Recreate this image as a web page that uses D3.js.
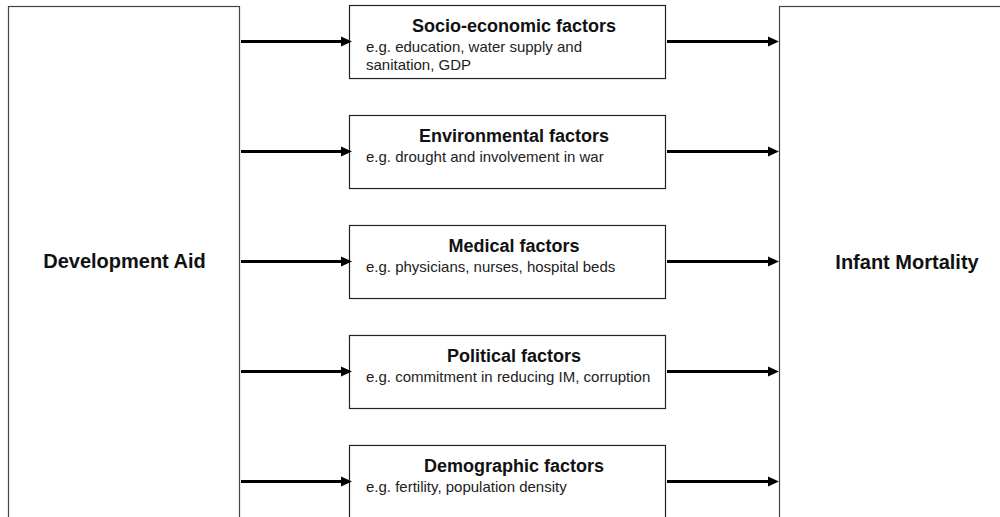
<!DOCTYPE html>
<html>
<head>
    <title>Development Aid and Infant Mortality</title>
    <script src="https://cdn.jsdelivr.net/npm/d3@7"></script>
    <style>
        body {
            margin: 0;
            padding: 0;
            background-color: white;
            overflow: hidden;
        }

        svg {
            display: block;
            font-family: "Liberation Sans", Arial, Helvetica, sans-serif;
        }

        .side-label {
            font-size: 20px;
            font-weight: bold;
            fill: #111;
        }

        .factor-title {
            font-size: 18px;
            font-weight: bold;
            fill: #111;
        }

        .factor-desc {
            font-size: 15px;
            fill: #222;
        }
    </style>
</head>
<body>
    <div id="diagram"></div>

    <script>
        // the two outer blocks
        const sourceLabel = "Development Aid";
        const targetLabel = "Infant Mortality";

        // middle column: one box per channel
        const factorTitles = [
            "Socio-economic factors",
            "Environmental factors",
            "Medical factors",
            "Political factors",
            "Demographic factors"
        ];

        const factorExamples = [
            ["e.g. education, water supply and", "sanitation, GDP"],
            ["e.g. drought and involvement in war"],
            ["e.g. physicians, nurses, hospital beds"],
            ["e.g. commitment in reducing IM, corruption"],
            ["e.g. fertility, population density"]
        ];

        const width = 1000;
        const height = 517;

        const svg = d3.select("#diagram")
            .append("svg")
            .attr("width", width)
            .attr("height", height);

        // rows of the middle column
        const yScale = d3.scaleBand()
            .domain(factorTitles)
            .range([5, 518])
            .paddingInner(0.336)
            .paddingOuter(0);

        // columns: source box, factor boxes, target box
        const col = {
            srcLeft: 8, srcRight: 239,
            midLeft: 349, midRight: 665,
            dstLeft: 779, dstRight: 1012
        };

        const midY = (yScale.range()[0] + yScale.range()[1]) / 2;

        // outer blocks (run past the bottom of the picture)
        svg.append("rect")
            .attr("x", col.srcLeft + 0.5)
            .attr("y", 6.5)
            .attr("width", col.srcRight - col.srcLeft)
            .attr("height", height + 20)
            .attr("fill", "none")
            .attr("stroke", "#444")
            .attr("stroke-width", 1.2);

        svg.append("rect")
            .attr("x", col.dstLeft + 0.5)
            .attr("y", 6.5)
            .attr("width", col.dstRight - col.dstLeft)
            .attr("height", height + 20)
            .attr("fill", "none")
            .attr("stroke", "#444")
            .attr("stroke-width", 1.2);

        svg.append("text")
            .attr("class", "side-label")
            .attr("x", (col.srcLeft + col.srcRight) / 2 + 1)
            .attr("y", midY + 6)
            .attr("text-anchor", "middle")
            .text(sourceLabel);

        svg.append("text")
            .attr("class", "side-label")
            .attr("x", 907)
            .attr("y", midY + 7)
            .attr("text-anchor", "middle")
            .text(targetLabel);

        // factor boxes
        const boxes = svg.selectAll(".factor")
            .data(factorTitles)
            .enter()
            .append("g")
            .attr("class", "factor")
            .attr("transform", d => `translate(0, ${yScale(d)})`);

        boxes.append("rect")
            .attr("x", col.midLeft + 0.5)
            .attr("y", 0.5)
            .attr("width", col.midRight - col.midLeft)
            .attr("height", yScale.bandwidth())
            .attr("fill", "white")
            .attr("stroke", "#222")
            .attr("stroke-width", 1.2);

        boxes.append("text")
            .attr("class", "factor-title")
            .attr("x", 514)
            .attr("y", 27)
            .attr("text-anchor", "middle")
            .text(d => d);

        boxes.append("text")
            .attr("class", "factor-desc")
            .attr("y", 47)
            .selectAll("tspan")
            .data((d, i) => factorExamples[i])
            .enter()
            .append("tspan")
            .attr("x", 366)
            .attr("dy", (d, i) => i === 0 ? 0 : 18)
            .text(d => d);

        // arrows in and out of each factor box
        function arrow(g, x1, x2, y) {
            g.append("line")
                .attr("x1", x1)
                .attr("x2", x2 - 8)
                .attr("y1", y)
                .attr("y2", y)
                .attr("stroke", "black")
                .attr("stroke-width", 3);

            const p = d3.path();
            p.moveTo(x2 - 11, y - 5);
            p.lineTo(x2, y);
            p.lineTo(x2 - 11, y + 5);
            p.closePath();
            g.append("path")
                .attr("d", p.toString())
                .attr("fill", "black");
        }

        boxes.each(function () {
            const g = d3.select(this);
            const cy = yScale.bandwidth() / 2;
            arrow(g, col.srcRight + 2, col.midLeft + 3, cy);
            arrow(g, col.midRight + 2, col.dstLeft, cy);
        });
    </script>
</body>
</html>
